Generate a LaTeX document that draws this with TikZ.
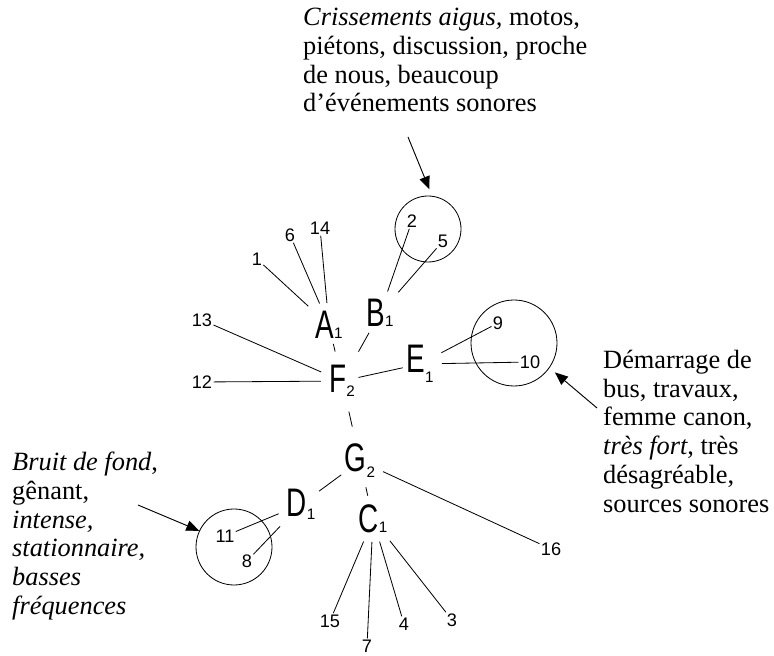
\documentclass[tikz,border=0pt]{standalone}
\usepackage{fontspec}
\setmainfont{Liberation Serif}
\newfontfamily\letfont[FakeStretch=0.7]{Liberation Sans}
\newfontfamily\numfont{Liberation Sans}
\usetikzlibrary{arrows.meta}
\tikzset{
  >={Triangle[length=11pt,width=9pt]},
  letter/.style={font=\letfont\fontsize{34}{34}\selectfont, inner sep=3pt, anchor=base},
  num/.style={font=\numfont\fontsize{15.5}{15.5}\selectfont, inner sep=1pt},
  ring/.style={draw, circle, line width=0.7pt, inner sep=0pt},
  spoke/.style={line width=0.7pt, shorten <=4pt},
  tick/.style={line width=0.7pt},
  note/.style={align=left, font=\fontsize{22.5}{24.5}\selectfont, inner sep=0pt, anchor=north west},
  pointer/.style={->, line width=0.8pt},
}
\newcommand{\lsub}[3][0pt]{#2\raisebox{-#1}{\numfont\fontsize{13}{13}\selectfont #3}}

\begin{document}
\begin{tikzpicture}[x=0.03cm, y=-0.03cm]
  \useasboundingbox (0,0) rectangle (774,656);
  % groups
  \node[letter] (A) at (329,339) {\lsub{A}{1}};
  \node[letter] (B) at (380,327) {\lsub{B}{1}};
  \node[letter] (E) at (420,373) {\lsub[8pt]{E}{1}};
  \node[letter] (F) at (342,393) {\lsub[3pt]{F}{2}};
  \node[letter] (G) at (360,472) {\lsub[5pt]{G}{2}};
  \node[letter] (D) at (301,517) {\lsub[2pt]{D}{1}};
  \node[letter] (C) at (373,533) {\lsub{C}{1}};
  % sounds
  \node[num] (n1)  at (257,259) {1};
  \node[num] (n6)  at (290,235) {6};
  \node[num] (n14) at (320,228) {14};
  \node[num] (n2)  at (412,221) {2};
  \node[num] (n5)  at (443,241) {5};
  \node[num] (n13) at (202,320) {13};
  \node[num] (n12) at (202,382) {12};
  \node[num] (n9)  at (498,323) {9};
  \node[num] (n10) at (530,362) {10};
  \node[num] (n16) at (551,549) {16};
  \node[num] (n11) at (225,536) {11};
  \node[num] (n8)  at (247,561) {8};
  \node[num] (n15) at (330,621) {15};
  \node[num] (n7)  at (367,646) {7};
  \node[num] (n4)  at (404,624) {4};
  \node[num] (n3)  at (452,620) {3};
  % links between groups
  \draw[tick, shorten <=1pt, shorten >=9pt] (A) -- (F);
  \draw[tick, shorten <=2pt, shorten >=10pt] (B) -- (F);
  \draw[tick] (F) -- (E);
  \draw[tick, shorten <=10pt, shorten >=12pt] (F) -- (G);
  \draw[tick] (G) -- (D);
  \draw[tick, shorten <=5pt, shorten >=5pt] (G) -- (C);
  % links to sounds
  \foreach \n in {n1,n6,n14} \draw[spoke] (A) -- (\n);
  \foreach \n in {n2,n5} \draw[spoke] (B) -- (\n);
  \foreach \n in {n13,n12} \draw[spoke] (F) -- (\n);
  \foreach \n in {n9,n10} \draw[spoke] (E) -- (\n);
  \foreach \n in {n11,n8} \draw[spoke] (D) -- (\n);
  \foreach \n in {n15,n7,n4,n3} \draw[spoke] (C) -- (\n);
  \draw[spoke] (G) -- (n16);
  % circled clusters
  \node[ring, minimum size=66*0.03cm] (rB) at (428,229) {};
  \node[ring, minimum size=86*0.03cm] (rE) at (514,343) {};
  \node[ring, minimum size=76*0.03cm] (rD) at (234,547) {};
  % comments
  \node[note] (top) at (303,8) {\textit{Crissements aigus,} motos,\\piétons, discussion, proche\\de nous, beaucoup\\d’événements sonores};
  \node[note] (right) at (603,350) {Démarrage de\\bus, travaux,\\femme canon,\\\textit{très fort}, très\\désagréable,\\sources sonores};
  \node[note] (left) at (12,452) {\textit{Bruit de fond},\\gênant,\\\textit{intense,}\\\textit{stationnaire,}\\\textit{basses}\\\textit{fréquences}};
  \coordinate (tTop) at (408,137);
  \coordinate (tRight) at (597,408);
  \coordinate (tLeft) at (138,505);
  \draw[pointer, shorten >=6pt] (tTop) -- (rB.83);
  \draw[pointer, shorten >=6pt] (tRight) -- (rE.-35);
  \draw[pointer] (tLeft) -- (rD.155);
\end{tikzpicture}
\end{document}
